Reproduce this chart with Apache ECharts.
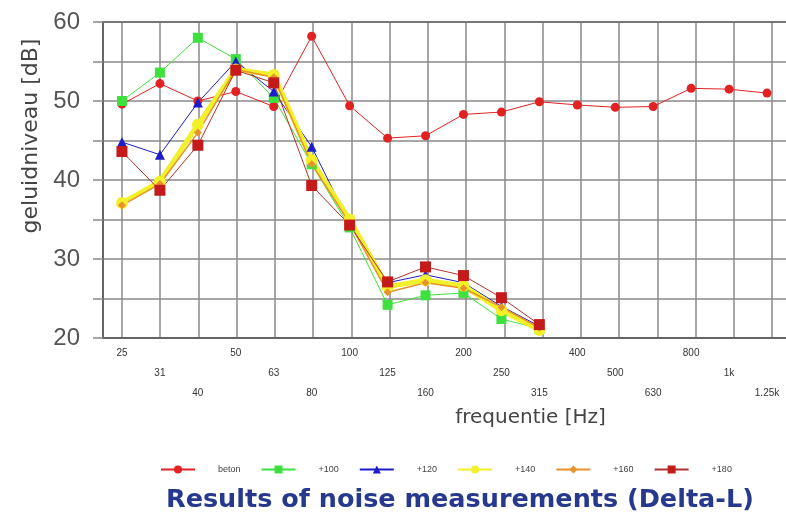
<!DOCTYPE html>
<html>
<head>
<meta charset="utf-8">
<script src="https://cdn.jsdelivr.net/npm/echarts@6/dist/echarts.min.js"></script>
<style>
  html, body { margin: 0; padding: 0; background: #fff; }
  #chart { width: 786px; height: 521px; }
</style>
</head>
<body>
<div id="chart"></div>
<script>
// frequenties (tertsbanden)
const bands = ['25', '31', '40', '50', '63', '80', '100', '125', '160', '200', '250', '315',
  '400', '500', '630', '800', '1k', '1.25k']

// meetwaarden in dB
const beton = [49.6, 52.2, 50.0, 51.2, 49.3, 58.2, 49.4, 45.3, 45.6, 48.3, 48.6, 49.9,
  49.5, 49.2, 49.3, 51.6, 51.5, 51.0]
const plus100 = [50.0, 53.6, 58.0, 55.3, 50.4, 42.0, 34.0, 24.2, 25.4, 25.7, 22.4, 21.2]
const plus120 = [44.8, 43.2, 49.8, 55.0, 51.2, 44.2, 34.5, 27.0, 28.0, 27.0, 24.0, 21.5]
const plus140 = [37.1, 39.8, 47.0, 54.0, 53.3, 42.5, 35.0, 26.5, 27.3, 26.6, 23.5, 21.0]
const plus160 = [36.8, 39.5, 46.0, 54.0, 53.0, 42.0, 34.5, 25.8, 27.0, 26.3, 23.9, 21.3]
const plus180 = [43.6, 38.7, 44.4, 53.9, 52.3, 39.3, 34.3, 27.1, 29.0, 27.9, 25.1, 21.7]

const labelFont = '"Liberation Sans Narrow", "Liberation Sans", Arial, sans-serif'
const plainFont = '"Liberation Sans", Arial, sans-serif'
const wideFont = '"DejaVu Sans", Arial, sans-serif'

const chart = echarts.init(document.getElementById('chart'), null, {renderer: 'canvas'})

function line(name, data, color, symbol, size, width, lineColor) {
  return {
    name: name,
    type: 'line',
    xAxisIndex: 0,
    yAxisIndex: 0,
    data: data,
    symbol: symbol,
    symbolSize: size,
    showAllSymbol: true,
    itemStyle: {color: color},
    lineStyle: {color: lineColor || color, width: width},
    emphasis: {disabled: true},
    animation: false
  }
}

const option = {
  animation: false,
  title: {
    text: 'Results of noise measurements (Delta-L)',
    left: 161,
    top: 482,
    textStyle: {fontFamily: wideFont, fontSize: 25.5, fontWeight: 'bold', color: '#26398e'}
  },
  legend: {
    left: 155,
    top: 460,
    itemWidth: 34,
    itemHeight: 10,
    itemGap: 20,
    formatter: '{t|{name}}',
    textStyle: {
      fontFamily: labelFont,
      fontSize: 9,
      color: '#444',
      rich: {t: {padding: [0, 0, 0, 18], fontFamily: labelFont, fontSize: 9, color: '#444'}}
    },
    data: ['beton', '+100', '+120', '+140', '+160', '+180']
  },
  grid: [
    {left: 103, top: 22, width: 688, height: 316},
    {left: 122, top: 22, width: 650, height: 316}
  ],
  xAxis: [
    {
      type: 'category',
      gridIndex: 0,
      data: bands,
      boundaryGap: true,
      name: 'frequentie [Hz]',
      nameLocation: 'middle',
      nameGap: 66,
      nameTextStyle: {fontFamily: wideFont, fontSize: 20, color: '#444', padding: [0, 0, 0, 172]},
      axisLine: {lineStyle: {color: '#666', width: 2}},
      axisTick: {alignWithLabel: true, length: 4, lineStyle: {color: '#888'}},
      splitLine: {show: false},
      axisLabel: {
        interval: 0,
        margin: 5,
        fontFamily: labelFont,
        fontSize: 10,
        lineHeight: 20,
        color: '#333',
        formatter: function (v, i) {
          return '\n'.repeat(i % 3) + v
        }
      }
    },
    {
      type: 'category',
      gridIndex: 0,
      position: 'top',
      data: bands,
      axisLine: {lineStyle: {color: '#777', width: 2}},
      axisTick: {show: false},
      axisLabel: {show: false},
      splitLine: {show: false}
    },
    {
      type: 'value',
      gridIndex: 1,
      min: 0,
      max: 17,
      interval: 1,
      axisLine: {show: false},
      axisTick: {show: false},
      axisLabel: {show: false},
      splitLine: {lineStyle: {color: '#8a8a8a', width: 1.5}}
    }
  ],
  yAxis: [
    {
      type: 'value',
      gridIndex: 0,
      min: 20,
      max: 60,
      interval: 5,
      name: 'geluidniveau [dB]',
      nameLocation: 'middle',
      nameGap: 59,
      nameTextStyle: {fontFamily: wideFont, fontSize: 22, color: '#444', padding: [0, 0, 0, 88]},
      axisLine: {show: true, lineStyle: {color: '#666', width: 2}},
      axisTick: {show: true, length: 10, lineStyle: {color: '#888', width: 1.5}},
      splitLine: {lineStyle: {color: '#8a8a8a', width: 1.5}},
      axisLabel: {
        margin: 23,
        fontFamily: plainFont,
        fontSize: 24,
        color: '#555',
        formatter: function (v) {
          return v % 10 === 0 ? String(v) : ''
        }
      }
    },
    {
      type: 'value',
      gridIndex: 1,
      min: 20,
      max: 60,
      show: false
    }
  ],
  series: [
    line('beton', beton, '#e02222', 'circle', 9, 1),
    line('+100', plus100, '#3ee03e', 'rect', 10, 1),
    line('+120', plus120, '#1c1cc8', 'triangle', 10, 1),
    line('+140', plus140, '#f2f02a', 'circle', 12, 5),
    line('+160', plus160, '#e8922a', 'diamond', 8, 1.5),
    line('+180', plus180, '#c41a1a', 'rect', 11, 1, '#b03030')
  ]
}

chart.setOption(option)
</script>
</body>
</html>
